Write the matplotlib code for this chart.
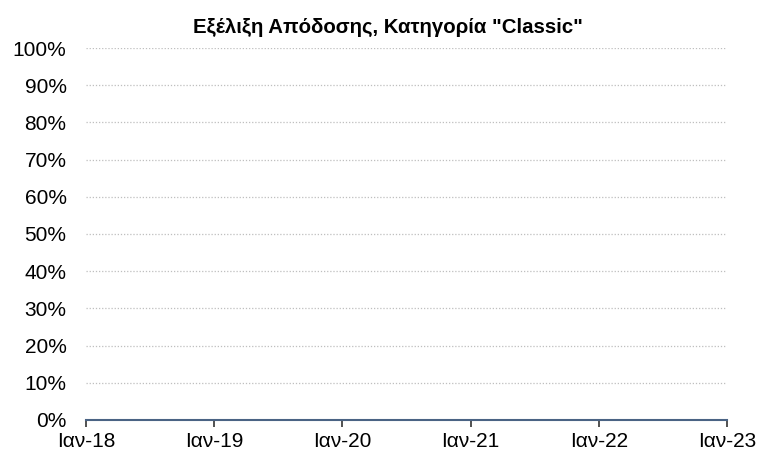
import matplotlib
matplotlib.use("Agg")
import matplotlib.pyplot as plt
from matplotlib.ticker import PercentFormatter
import datetime as dt

# data: the chart holds no series, only its axes
x_ticks = [dt.date(2018, 1, 1), dt.date(2019, 1, 1), dt.date(2020, 1, 1),
           dt.date(2021, 1, 1), dt.date(2022, 1, 1), dt.date(2023, 1, 1)]
x_labels = ["Ιαν-18", "Ιαν-19", "Ιαν-20", "Ιαν-21", "Ιαν-22", "Ιαν-23"]
y_ticks = [0.0, 0.1, 0.2, 0.3, 0.4, 0.5, 0.6, 0.7, 0.8, 0.9, 1.0]
title = 'Εξέλιξη Απόδοσης, Κατηγορία "Classic"'

plt.rcParams['font.family'] = ['Liberation Sans', 'DejaVu Sans']

fig = plt.figure(figsize=(7.58, 4.53), dpi=100)
ax = fig.add_axes([0.1135, 0.073, 0.8455, 0.821])

ax.set_xlim(x_ticks[0], x_ticks[-1])
ax.set_ylim(y_ticks[0], y_ticks[-1])
ax.set_xticks(x_ticks)
ax.set_xticklabels(x_labels)
ax.set_yticks(y_ticks)
ax.yaxis.set_major_formatter(PercentFormatter(1.0, decimals=0))

ax.grid(axis="y", color="#bfbfbf", linestyle=(0, (1, 1.5)), linewidth=0.9)
ax.set_axisbelow(True)
for s in ["top", "right", "left"]:
    ax.spines[s].set_visible(False)
ax.spines["bottom"].set_color("#4a6384")
ax.spines["bottom"].set_linewidth(1.5)

ax.tick_params(axis="y", length=0, pad=14, labelsize=15)
ax.tick_params(axis="x", length=5, width=1.2, color="#333333", labelsize=15, pad=4)

# title is centred a bit left of the plot area, as in the reference
fig.text(0.512, 0.94, title, fontsize=14.7, fontweight="bold",
         ha="center", va="center")

fig.savefig("out.png", dpi=100)
